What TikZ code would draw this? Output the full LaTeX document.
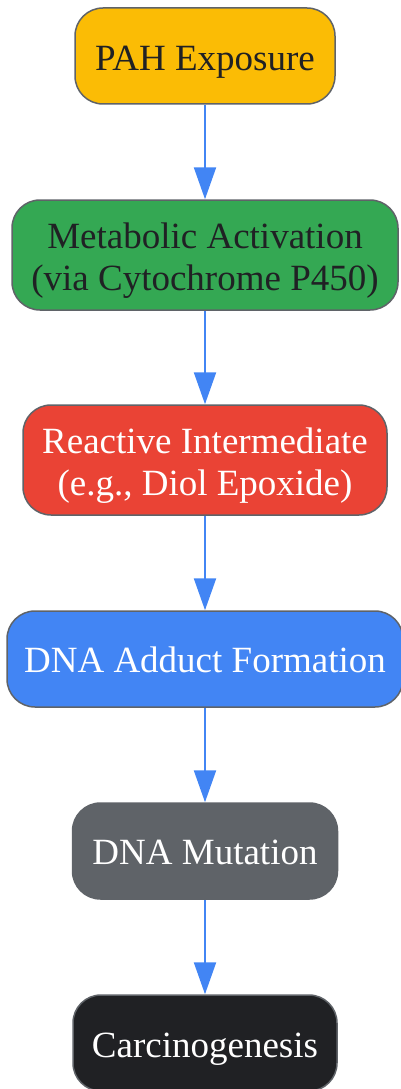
\documentclass[tikz,border=0pt]{standalone}
\usepackage{fontspec}
\setmainfont{Liberation Serif}
\usetikzlibrary{arrows.meta}
\definecolor{cyel}{HTML}{FBBC05}
\definecolor{cgrn}{HTML}{34A853}
\definecolor{cred}{HTML}{EA4335}
\definecolor{cblu}{HTML}{4285F4}
\definecolor{cgry}{HTML}{5F6368}
\definecolor{cdrk}{HTML}{202124}
\definecolor{cbrd}{HTML}{5F6368}
\begin{document}
\begin{tikzpicture}[x=1pt,y=-1pt,
  box/.style={draw=cbrd, line width=1.5pt, rounded corners=28pt, inner sep=0pt},
  lbl/.style={align=center, font=\fontsize{37}{42}\selectfont, inner sep=0pt, yshift=-6pt},
  flat/.style={yshift=5pt},
  flow/.style={draw=cblu, line width=2.2pt, -{Triangle[width=22pt,length=32pt]}}]
\useasboundingbox (0,0) rectangle (401,1089);
\node[box, fill=cyel, minimum width=260pt, minimum height=96pt] (n1) at (205,56) {};
\node[box, fill=cgrn, minimum width=386pt, minimum height=110pt] (n2) at (205,255) {};
\node[box, fill=cred, minimum width=364pt, minimum height=110pt] (n3) at (205,460) {};
\node[box, fill=cblu, minimum width=396pt, minimum height=96pt] (n4) at (205,659) {};
\node[box, fill=cgry, minimum width=265pt, minimum height=96pt] (n5) at (205,851) {};
\node[box, fill=cdrk, minimum width=264pt, minimum height=96pt] (n6) at (205,1043) {};
\node[lbl, text=cdrk] (t1) at (n1.center) {PAH Exposure};
\node[lbl, text=cdrk] (t2) at (n2.center) {Metabolic Activation\\(via Cytochrome P450)};
\node[lbl, text=white] (t3) at (n3.center) {Reactive Intermediate\\(e.g., Diol Epoxide)};
\node[lbl, flat, text=white] (t4) at (n4.center) {DNA Adduct Formation};
\node[lbl, flat, text=white] (t5) at (n5.center) {DNA Mutation};
\node[lbl, text=white] (t6) at (n6.center) {Carcinogenesis};
\draw[flow] (n1) -- (n2);
\draw[flow] (n2) -- (n3);
\draw[flow] (n3) -- (n4);
\draw[flow] (n4) -- (n5);
\draw[flow] (n5) -- (n6);
\end{tikzpicture}
\end{document}
